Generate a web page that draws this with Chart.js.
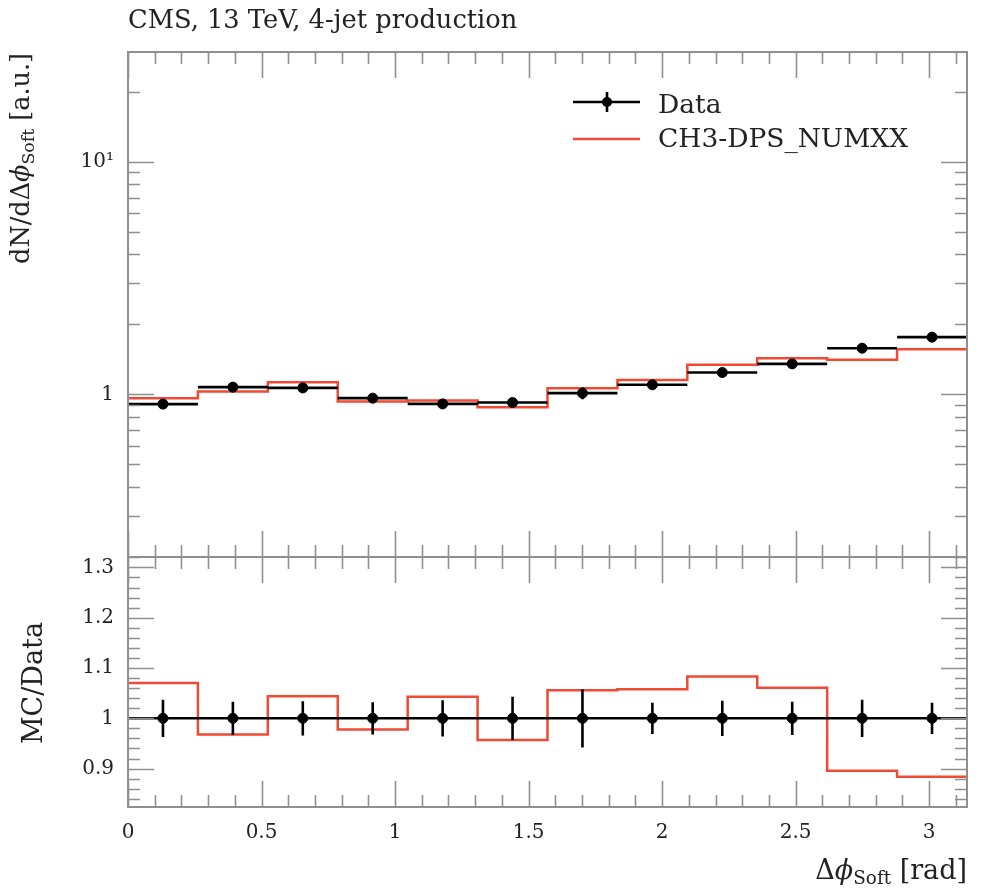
<!DOCTYPE html>
<html><head><meta charset="utf-8">
<script src="https://cdn.jsdelivr.net/npm/chart.js@4/dist/chart.umd.min.js"></script>
<style>
html,body{margin:0;padding:0;background:#fff;}
body{width:994px;height:891px;position:relative;overflow:hidden;font-family:'DejaVu Serif',serif;color:#222;}
canvas{position:absolute;left:0;}
.t{position:absolute;white-space:nowrap;line-height:1;}
.sub{font-size:0.68em;position:relative;top:0.28em;}
.rot{transform-origin:0 0;transform:rotate(-90deg);width:300px;}
</style></head><body>
<canvas id="top" width="994" height="557" style="top:0"></canvas>
<canvas id="ratio" width="994" height="351" style="top:540px"></canvas>
<div class="t" style="left:128px;top:7px;font-size:25.7px">CMS, 13 TeV, 4-jet production</div>
<div class="t" style="left:658px;top:91px;font-size:26.5px">Data</div>
<div class="t" style="left:658px;top:125px;font-size:26.5px">CH3-DPS_NUMXX</div>
<div class="t rot" style="left:8px;top:353px;font-size:25.5px;text-align:right">dN/dΔ<i>ϕ</i><span class="sub">Soft</span> [a.u.]</div>
<div class="t rot" style="left:19px;top:833px;font-size:27px;text-align:center">MC/Data</div>
<div class="t" style="right:27px;top:856px;font-size:27px">Δ<i>ϕ</i><span class="sub">Soft</span> [rad]</div>
<script>
// ---- data ----
const BIN_EDGES = [0, 0.2618, 0.5236, 0.7854, 1.0472, 1.3090, 1.5708, 1.8326, 2.0944, 2.3562, 2.6180, 2.8798, 3.1416];
const DATA_VALUES = [0.908, 1.074, 1.066, 0.963, 0.910, 0.922, 1.012, 1.099, 1.241, 1.352, 1.579, 1.761];
const DATA_REL_ERR = [0.037, 0.033, 0.034, 0.032, 0.036, 0.043, 0.058, 0.031, 0.035, 0.033, 0.037, 0.031];
const MC_VALUES = [0.963, 1.028, 1.128, 0.931, 0.940, 0.881, 1.063, 1.154, 1.339, 1.431, 1.407, 1.564];
const RATIO_MC = [1.070, 0.968, 1.044, 0.978, 1.043, 0.957, 1.056, 1.058, 1.083, 1.061, 0.896, 0.884];
const RATIO_DATA = [1, 1, 1, 1, 1, 1, 1, 1, 1, 1, 1, 1];

const X_TICKS = [0, 0.5, 1, 1.5, 2, 2.5, 3];
const X_TICK_LABELS = ['0', '0.5', '1', '1.5', '2', '2.5', '3'];
const TOP_Y_TICKS = [1, 10];
const TOP_Y_LABELS = ['1', '10\u00B9'];
const RATIO_Y_TICKS = [0.9, 1, 1.1, 1.2, 1.3];
const RATIO_Y_LABELS = ['0.9', '1', '1.1', '1.2', '1.3'];

const X_MIN = 0, X_MAX = Math.PI;
const TOP_Y_MIN = 0.2, TOP_Y_MAX = 29.6;
const RATIO_Y_MIN = 0.8237, RATIO_Y_MAX = 1.3207;

// ---- styles ----
const RED = '#ef4a35';
const GRAY = '#8f8f8f';
const FONT = {family: 'DejaVu Serif', size: 20};
const TXT = '#222';
const MAJ = 26, MIN = 12;

const centers = BIN_EDGES.slice(0, -1).map((e, i) => (e + BIN_EDGES[i + 1]) / 2);
const stepData = vals => BIN_EDGES.map((e, i) => ({x: e, y: vals[Math.min(i, vals.length - 1)]}));

function drawFrame(chart, yMinor, yMajor) {
  const {ctx, chartArea: a, scales} = chart;
  const xs = scales.x, ys = scales.y;
  ctx.save();
  ctx.strokeStyle = GRAY;
  ctx.lineWidth = 1.6;
  ctx.beginPath();
  for (let k = 0; k <= 31; k++) {
    const v = k / 10;
    if (v > X_MAX) break;
    const px = Math.round(xs.getPixelForValue(v)) + 0.5;
    const L = (k % 5 === 0) ? MAJ : MIN;
    ctx.moveTo(px, a.bottom); ctx.lineTo(px, a.bottom - L);
    ctx.moveTo(px, a.top); ctx.lineTo(px, a.top + L);
  }
  const drawY = (v, L) => {
    const py = Math.round(ys.getPixelForValue(v)) + 0.5;
    if (py < a.top || py > a.bottom) return;
    ctx.moveTo(a.left, py); ctx.lineTo(a.left + L, py);
    ctx.moveTo(a.right, py); ctx.lineTo(a.right - L, py);
  };
  yMinor.forEach(v => drawY(v, MIN));
  yMajor.forEach(v => drawY(v, MAJ));
  ctx.stroke();
  ctx.lineWidth = 2;
  ctx.strokeRect(a.left, a.top, a.right - a.left, a.bottom - a.top);
  ctx.restore();
}

function drawDataBars(chart, vals, absErr) {
  const {ctx, scales} = chart;
  const xs = scales.x, ys = scales.y;
  ctx.save();
  ctx.strokeStyle = '#000';
  ctx.lineWidth = 2.6;
  ctx.beginPath();
  vals.forEach((v, i) => {
    const yc = ys.getPixelForValue(v);
    ctx.moveTo(xs.getPixelForValue(BIN_EDGES[i]), yc);
    ctx.lineTo(xs.getPixelForValue(BIN_EDGES[i + 1]), yc);
    const xc = xs.getPixelForValue(centers[i]);
    ctx.moveTo(xc, ys.getPixelForValue(v - absErr[i]));
    ctx.lineTo(xc, ys.getPixelForValue(v + absErr[i]));
  });
  ctx.stroke();
  ctx.restore();
}

const logMinor = [], logMajor = [];
[0.1, 1, 10].forEach(d => { for (let k = 1; k <= 9; k++) { (k === 1 ? logMajor : logMinor).push(k * d); } });
const ratioMinor = [], ratioMajor = [];
for (let k = 41; k <= 66; k++) { const v = k * 0.02; (k % 5 === 0 ? ratioMajor : ratioMinor).push(v); }

const topPlugin = {
  id: 'topDecor',
  afterDatasetsDraw(chart) {
    drawDataBars(chart, DATA_VALUES, DATA_VALUES.map((v, i) => v * DATA_REL_ERR[i]));
  },
  afterDraw(chart) {
    drawFrame(chart, logMinor, logMajor);
    const ctx = chart.ctx;
    ctx.save();
    ctx.lineWidth = 2.6; ctx.strokeStyle = '#000';
    ctx.beginPath();
    ctx.moveTo(573, 102); ctx.lineTo(640, 102);
    ctx.moveTo(607, 92); ctx.lineTo(607, 112);
    ctx.stroke();
    ctx.fillStyle = '#000';
    ctx.beginPath(); ctx.arc(607, 102, 5, 0, 2 * Math.PI); ctx.fill();
    ctx.strokeStyle = RED; ctx.lineWidth = 2.5;
    ctx.beginPath(); ctx.moveTo(573, 139); ctx.lineTo(640, 139); ctx.stroke();
    ctx.restore();
  }
};

const ratioPlugin = {
  id: 'ratioDecor',
  afterDatasetsDraw(chart) {
    drawDataBars(chart, RATIO_DATA, DATA_REL_ERR);
  },
  afterDraw(chart) {
    drawFrame(chart, ratioMinor, ratioMajor);
  }
};

const commonY = {
  grid: {display: false, drawTicks: false},
  border: {display: false},
  afterFit: s => { s.width = 128; s.paddingTop = 0; s.paddingBottom = 0; }
};

new Chart(document.getElementById('top'), {
  type: 'line',
  data: {
    datasets: [
      {label: 'CH3-DPS_NUMXX', data: stepData(MC_VALUES), borderColor: RED, borderWidth: 2.5,
       stepped: 'before', pointRadius: 0, fill: false, order: 2},
      {label: 'Data', data: DATA_VALUES.map((v, i) => ({x: centers[i], y: v})), showLine: false,
       pointRadius: 5, pointBackgroundColor: '#000', pointBorderColor: '#000', borderColor: '#000', order: 1}
    ]
  },
  options: {
    responsive: false, animation: false, devicePixelRatio: 1,
    layout: {padding: {left: 0, top: 52, right: 27, bottom: 0}, autoPadding: false},
    plugins: {legend: {display: false}, tooltip: {enabled: false}},
    scales: {
      x: {type: 'linear', min: X_MIN, max: X_MAX, display: false},
      y: Object.assign({}, commonY, {
        type: 'logarithmic', min: TOP_Y_MIN, max: TOP_Y_MAX,
        afterBuildTicks: s => { s.ticks = TOP_Y_TICKS.map(v => ({value: v})); },
        ticks: {font: FONT, color: TXT, padding: 14,
                callback: v => { const i = TOP_Y_TICKS.indexOf(v); return i >= 0 ? TOP_Y_LABELS[i] : ''; }}
      })
    }
  },
  plugins: [topPlugin]
});

new Chart(document.getElementById('ratio'), {
  type: 'line',
  data: {
    datasets: [
      {label: 'CH3-DPS_NUMXX', data: stepData(RATIO_MC), borderColor: RED, borderWidth: 2.5,
       stepped: 'before', pointRadius: 0, fill: false, order: 2},
      {label: 'Data', data: RATIO_DATA.map((v, i) => ({x: centers[i], y: v})), showLine: false,
       pointRadius: 5, pointBackgroundColor: '#000', pointBorderColor: '#000', borderColor: '#000', order: 1}
    ]
  },
  options: {
    responsive: false, animation: false, devicePixelRatio: 1,
    layout: {padding: {left: 0, top: 17, right: 27, bottom: 0}, autoPadding: false},
    plugins: {legend: {display: false}, tooltip: {enabled: false}},
    scales: {
      x: {type: 'linear', min: X_MIN, max: X_MAX,
          grid: {display: false, drawTicks: false}, border: {display: false},
          afterBuildTicks: s => { s.ticks = X_TICKS.map(v => ({value: v})); },
          afterFit: s => { s.height = 84; s.paddingLeft = 0; s.paddingRight = 0; },
          ticks: {font: FONT, color: TXT, padding: 14, maxRotation: 0, autoSkip: false,
                  callback: v => { const i = X_TICKS.indexOf(v); return i >= 0 ? X_TICK_LABELS[i] : ''; }}
      },
      y: Object.assign({}, commonY, {
        type: 'linear', min: RATIO_Y_MIN, max: RATIO_Y_MAX,
        afterBuildTicks: s => { s.ticks = RATIO_Y_TICKS.map(v => ({value: v})); },
        ticks: {font: FONT, color: TXT, padding: 14,
                callback: v => { const i = RATIO_Y_TICKS.indexOf(v); return i >= 0 ? RATIO_Y_LABELS[i] : ''; }}
      })
    }
  },
  plugins: [ratioPlugin]
});
</script>
</body></html>
